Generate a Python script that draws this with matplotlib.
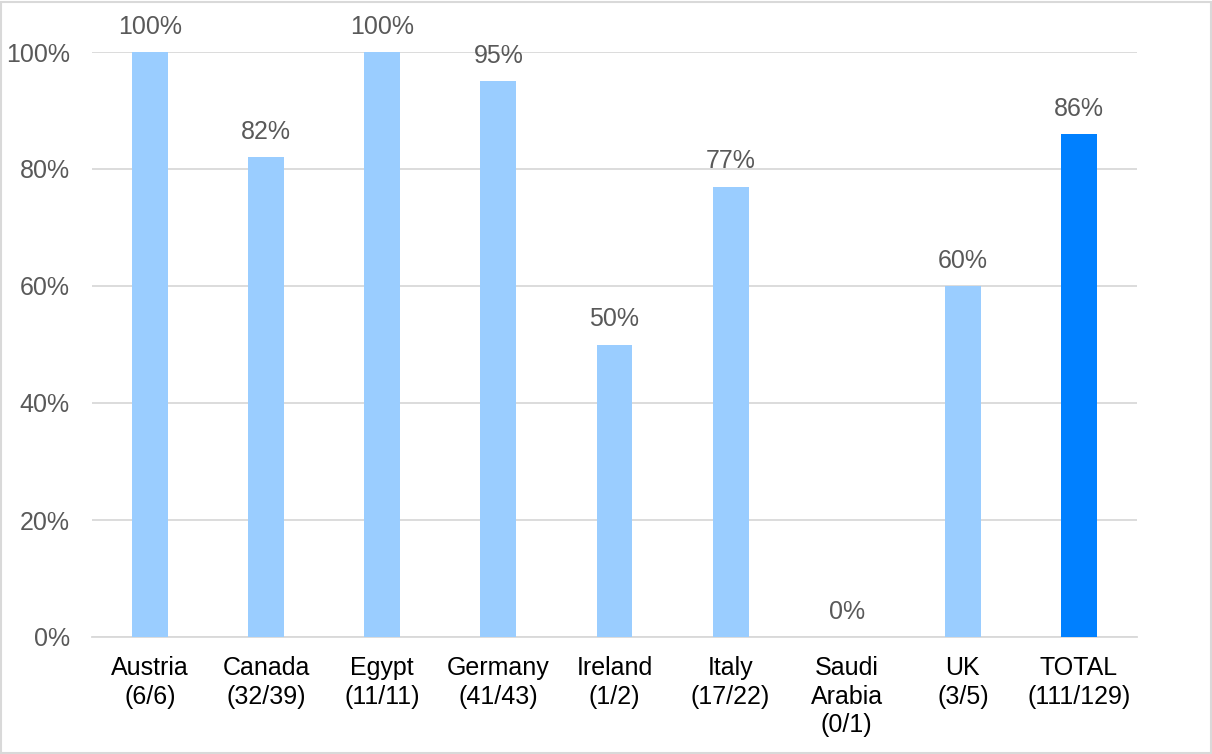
import matplotlib
matplotlib.use("Agg")
import matplotlib.pyplot as plt
from matplotlib.patches import Rectangle

countries = ["Austria\n(6/6)", "Canada\n(32/39)", "Egypt\n(11/11)", "Germany\n(41/43)",
             "Ireland\n(1/2)", "Italy\n(17/22)", "Saudi\nArabia\n(0/1)", "UK\n(3/5)",
             "TOTAL\n(111/129)"]
percent = [100, 82, 100, 95, 50, 77, 0, 60, 86]
yticks = [0, 20, 40, 60, 80, 100]

light = "#9ACDFF"
dark = "#0080FF"
grid_col = "#D9D9D9"
text_gray = "#595959"

plt.rcParams['font.family'] = ['Liberation Sans', 'DejaVu Sans']

fig = plt.figure(figsize=(12.12, 7.54), dpi=100)
ax = fig.add_axes([92 / 1212, 117 / 754, 1045 / 1212, 585 / 754])

colors = [light] * (len(percent) - 1) + [dark]
x = list(range(len(percent)))
ax.bar(x, percent, width=0.31, color=colors, zorder=3)

for xi, v in zip(x, percent):
    ax.annotate(f"{v}%", (xi, v), xytext=(0, 9.5), textcoords="offset points",
                ha="center", va="bottom", fontsize=18, color=text_gray,
                annotation_clip=False)

ax.set_xlim(-0.5, len(percent) - 0.5)
ax.set_ylim(0, 100)
ax.set_yticks(yticks)
ax.set_yticklabels([f"{t}%" for t in yticks])
ax.set_xticks(x)
ax.set_xticklabels(countries, linespacing=1.22)
ax.tick_params(axis="x", length=0, pad=14, labelsize=18, labelcolor="black")
ax.tick_params(axis="y", length=0, pad=16, labelsize=18, labelcolor=text_gray)

ax.grid(axis="y", color=grid_col, linewidth=1.3, zorder=0)
ax.set_axisbelow(True)
for s in ["left", "right", "top"]:
    ax.spines[s].set_visible(False)
ax.spines["bottom"].set_color(grid_col)
ax.spines["bottom"].set_linewidth(1.3)

# thin frame round the whole picture
fig.patches.append(Rectangle((0.001, 0.001), 0.998, 0.997, transform=fig.transFigure,
                             fill=False, edgecolor=grid_col, linewidth=1.5))

fig.savefig("out.png", dpi=100)
